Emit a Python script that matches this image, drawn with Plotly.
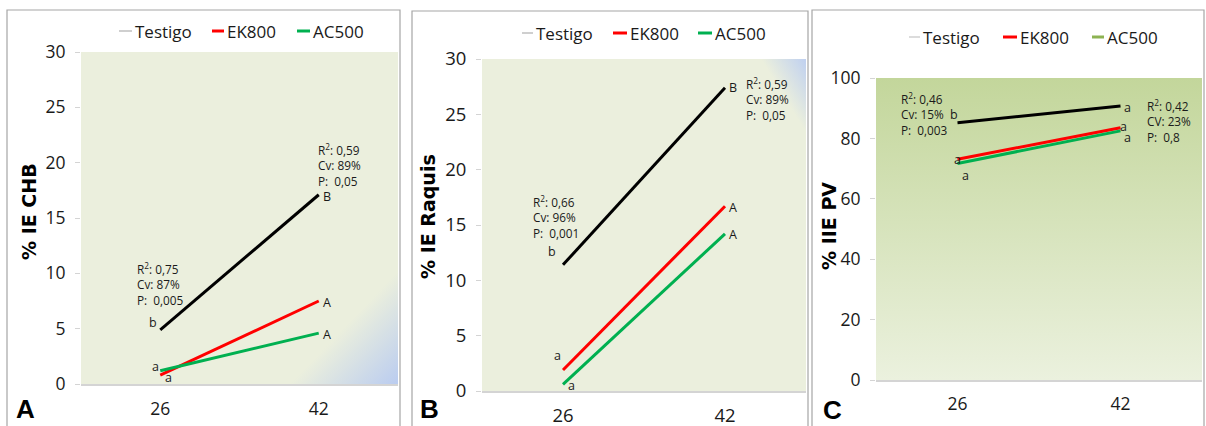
import base64
import plotly.graph_objects as go

W, H = 1206, 426

# ---- data -------------------------------------------------------------
weeks = ["26", "42"]
series_names = ["Testigo", "EK800", "AC500"]

chb_testigo = [4.9, 17.1]
chb_ek800 = [0.8, 7.5]
chb_ac500 = [1.2, 4.6]

raquis_testigo = [11.4, 27.4]
raquis_ek800 = [1.9, 16.7]
raquis_ac500 = [0.6, 14.2]

pv_testigo = [85.2, 90.7]
pv_ek800 = [73.1, 83.5]
pv_ac500 = [71.7, 82.5]

# significance letters per series (week 26, week 42)
chb_letters = [["b", "B"], ["a", "A"], ["a", "A"]]
raquis_letters = [["b", "B"], ["a", "A"], ["a", "A"]]
pv_letters = [["b", "a"], ["a", "a"], ["a", "a"]]

chb_stats = [["R<sup>2</sup>: 0,75", "Cv: 87%", "P:\u00a0 0,005"],
             ["R<sup>2</sup>: 0,59", "Cv: 89%", "P:\u00a0 0,05"]]
raquis_stats = [["R<sup>2</sup>: 0,66", "Cv: 96%", "P:\u00a0 0,001"],
                ["R<sup>2</sup>: 0,59", "Cv: 89%", "P:\u00a0 0,05"]]
pv_stats = [["R<sup>2</sup>: 0,46", "Cv: 15%", "P:\u00a0 0,003"],
            ["R<sup>2</sup>: 0,42", "CV: 23%", "P:\u00a0 0,8"]]

y_titles = ["% IE CHB", "% IE Raquis", "% IIE PV"]
panel_letters = ["A", "B", "C"]

# ---- styling ------------------------------------------------------------
line_colors = ["#000000", "#FF0000", "#00B050"]
FONT = "Open Sans"
TEXT = "#1a1a1a"


def px(x):
    return x / W


def py(y):
    return 1 - y / H


def svg_uri(svg):
    return "data:image/svg+xml;base64," + base64.b64encode(svg.encode()).decode()


def gradient_svg(x1, y1, x2, y2, stops):
    st = "".join(f"<stop offset='{o}' stop-color='{c}'/>" for o, c in stops)
    return svg_uri(
        "<svg xmlns='http://www.w3.org/2000/svg' width='100' height='100' "
        "viewBox='0 0 100 100' preserveAspectRatio='none'><defs>"
        f"<linearGradient id='g' x1='{x1}' y1='{y1}' x2='{x2}' y2='{y2}'>{st}"
        "</linearGradient></defs><rect width='100' height='100' fill='url(#g)'/></svg>"
    )


panels = [
    dict(
        values=[chb_testigo, chb_ek800, chb_ac500], letters=chb_letters, stats=chb_stats,
        dom_x=(81, 398), dom_y=(52, 384), yrange=[0, 30], dtick=5,
        title_pos=(29, 212), letter_pos=(25, 409), border=(7, 10, 400),
        legend_y=31, legend_keys=[(119, 132), (212, 224), (297, 310)],
        legend_colors=["#BFBFBF", "#FF0000", "#00B050"], legend_widths=[1.5, 3, 3],
        stats_pos=[(135, 258), (316, 139)], tick_size=17.5, standoff=8,
        bg=gradient_svg(0, 0, 1, 1, [(0, "#EBEFDD"), (0.83, "#EBEFDD"), (1, "#BACCF0")]),
        shifts=[[(-7, 7), (8, -2)], [(8, -2), (8, -1)], [(-5, 4), (8, -1)]],
    ),
    dict(
        values=[raquis_testigo, raquis_ek800, raquis_ac500], letters=raquis_letters, stats=raquis_stats,
        dom_x=(482, 806), dom_y=(59, 391), yrange=[0, 30], dtick=5,
        title_pos=(428, 217), letter_pos=(429, 409), border=(412, 11, 808),
        legend_y=33, legend_keys=[(522, 533), (613, 627), (698, 712)],
        legend_colors=["#BFBFBF", "#FF0000", "#00B050"], legend_widths=[1.5, 3, 3],
        stats_pos=[(531, 191), (744, 73)], tick_size=18.5, standoff=7,
        bg=gradient_svg(1, 0, 0.6, 0.25, [(0, "#BFD0F0"), (0.25, "#EBEFDD"), (1, "#EBEFDD")]),
        shifts=[[(-11, 13), (8, 0)], [(-6, 14), (8, -1)], [(8, -1), (8, -1)]],
    ),
    dict(
        values=[pv_testigo, pv_ek800, pv_ac500], letters=pv_letters, stats=pv_stats,
        dom_x=(876, 1202), dom_y=(78, 380), yrange=[0, 100], dtick=20,
        title_pos=(829, 226), letter_pos=(832, 410), border=(812, 10, 1204),
        legend_y=37, legend_keys=[(909, 920), (1003, 1017), (1092, 1104)],
        legend_colors=["#D0D0D0", "#FF0000", "#8DB352"], legend_widths=[1.5, 3, 3],
        stats_pos=[(899, 88), (1145, 95)], tick_size=17.5, standoff=7,
        bg=gradient_svg(0, 0, 0, 1, [(0, "#C3D69B"), (1, "#EBF1DE")]),
        shifts=[[(-4, 8), (7, -1)], [(0, 0), (3, 1)], [(8, -12), (7, -7)]],
    ),
]

fig = go.Figure()
annotations = []
shapes = []
images = []

for i, p in enumerate(panels):
    n = "" if i == 0 else str(i + 1)
    xa, ya = "x" + n, "y" + n

    for s, (name, vals) in enumerate(zip(series_names, p["values"])):
        fig.add_trace(go.Scatter(
            x=weeks, y=vals, name=name, mode="lines",
            line=dict(color=line_colors[s], width=3),
            xaxis=xa, yaxis=ya, showlegend=False,
        ))
        # letters sit beside each end point (category index k on the x axis)
        for k in range(len(weeks)):
            dx, dy = p["shifts"][s][k]
            annotations.append(dict(
                x=k, y=vals[k], xref=xa, yref=ya, text=p["letters"][s][k],
                showarrow=False, xshift=dx, yshift=dy,
                font=dict(family=FONT, size=12.5, color=TEXT),
            ))

    x0, x1 = p["dom_x"]
    yt, yb = p["dom_y"]
    fig.layout["xaxis" + n] = dict(
        domain=[px(x0), px(x1)], anchor=ya, type="category",
        range=[-0.5, 1.5], showgrid=False, zeroline=False, automargin=False,
        showline=True, linecolor="#D4D4D4", linewidth=1.5,
        ticks="", ticklabelstandoff=p["standoff"],
        tickfont=dict(family=FONT, size=p["tick_size"], color=TEXT),
    )
    fig.layout["yaxis" + n] = dict(
        domain=[py(yb), py(yt)], anchor=xa, range=p["yrange"], dtick=p["dtick"],
        showgrid=False, zeroline=False, showline=False, automargin=False,
        ticks="outside", ticklen=5, tickcolor="#D4D4D4", tickwidth=1,
        ticklabelstandoff=6,
        tickfont=dict(family=FONT, size=p["tick_size"], color=TEXT),
    )

    images.append(dict(
        source=p["bg"], xref=xa + " domain", yref=ya + " domain",
        x=0, y=1, sizex=1, sizey=1, xanchor="left", yanchor="top",
        sizing="stretch", layer="below",
    ))

    # panel frame
    bx0, by0, bx1 = p["border"]
    shapes.append(dict(
        type="rect", xref="paper", yref="paper",
        x0=px(bx0), x1=px(bx1), y0=py(H + 5), y1=py(by0),
        line=dict(color="#A6A6A6", width=1.2), fillcolor="rgba(0,0,0,0)", layer="below",
    ))

    # legend row
    for s, name in enumerate(series_names):
        kx0, kx1 = p["legend_keys"][s]
        shapes.append(dict(
            type="line", xref="paper", yref="paper",
            x0=px(kx0), x1=px(kx1), y0=py(p["legend_y"]), y1=py(p["legend_y"]),
            line=dict(color=p["legend_colors"][s], width=p["legend_widths"][s]),
        ))
        annotations.append(dict(
            x=px(kx1 + 1), y=py(p["legend_y"]), xref="paper", yref="paper",
            text=name, showarrow=False, xanchor="left", yanchor="middle",
            font=dict(family=FONT, size=17, color=TEXT),
        ))

    # regression statistics
    for (sx, sy), lines in zip(p["stats_pos"], p["stats"]):
        annotations.append(dict(
            x=px(sx), y=py(sy), xref="paper", yref="paper",
            text="<br>".join(lines), showarrow=False, align="left",
            xanchor="left", yanchor="top",
            font=dict(family=FONT, size=11.8, color=TEXT),
        ))

    # axis title and panel letter
    tx, ty = p["title_pos"]
    annotations.append(dict(
        x=px(tx), y=py(ty), xref="paper", yref="paper", text=y_titles[i],
        textangle=-90, showarrow=False, xanchor="center", yanchor="middle",
        font=dict(family="DejaVu Sans", size=19, color="#000000", weight="bold"),
    ))
    lx, ly = p["letter_pos"]
    annotations.append(dict(
        x=px(lx), y=py(ly), xref="paper", yref="paper", text=panel_letters[i],
        showarrow=False, xanchor="center", yanchor="middle",
        font=dict(family="Liberation Sans", size=26, color="#000000", weight="bold"),
    ))

fig.update_layout(
    width=W, height=H, margin=dict(l=0, r=0, t=0, b=0, autoexpand=False),
    paper_bgcolor="#FFFFFF", plot_bgcolor="rgba(0,0,0,0)",
    showlegend=False, annotations=annotations, shapes=shapes, images=images,
)

fig.write_html("out.html")
